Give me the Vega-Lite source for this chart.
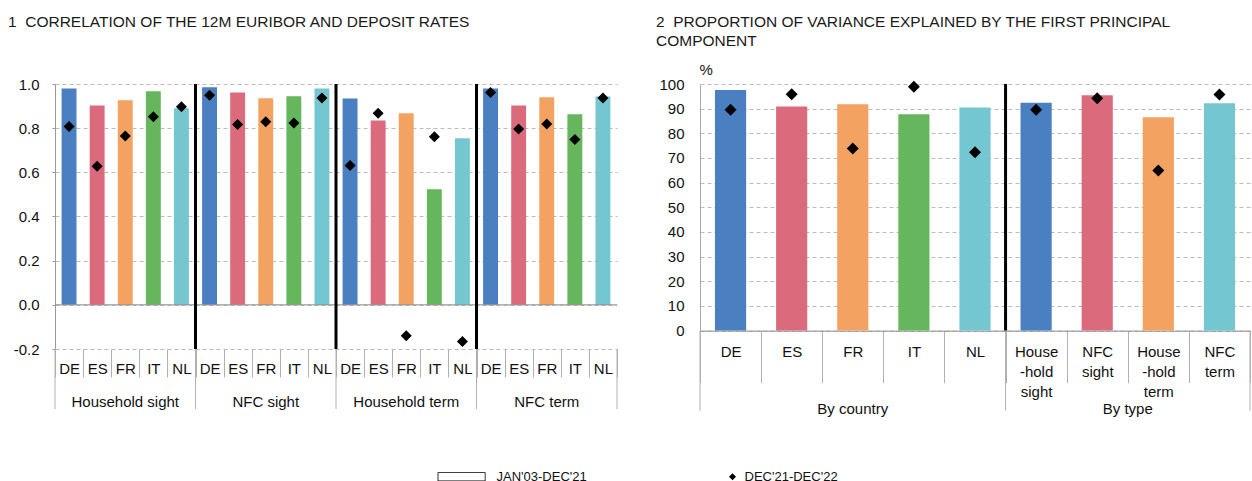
{
  "$schema": "https://vega.github.io/schema/vega-lite/v6.json",
  "padding": {"left": 8, "top": 14, "right": 0, "bottom": 0},
  "bounds": "flush",
  "spacing": 83,
  "config": {
    "font": "Liberation Sans",
    "view": {"stroke": null},
    "axis": {"labelFont": "Liberation Sans", "labelColor": "#111", "titleFont": "Liberation Sans", "titleColor": "#111"},
    "legend": {"labelFont": "Liberation Sans", "labelColor": "#111"},
    "title": {"font": "Liberation Sans", "fontWeight": "normal", "color": "#1a1a1a", "fontSize": 15.5, "anchor": "start", "frame": "group"}
  },
  "datasets": {
    "corr": [
      {"group": "Household sight", "country": "DE", "key": "Household sight|DE", "jan03_dec21": 0.980, "dec21_dec22": 0.807},
      {"group": "Household sight", "country": "ES", "key": "Household sight|ES", "jan03_dec21": 0.903, "dec21_dec22": 0.628},
      {"group": "Household sight", "country": "FR", "key": "Household sight|FR", "jan03_dec21": 0.926, "dec21_dec22": 0.764},
      {"group": "Household sight", "country": "IT", "key": "Household sight|IT", "jan03_dec21": 0.967, "dec21_dec22": 0.852},
      {"group": "Household sight", "country": "NL", "key": "Household sight|NL", "jan03_dec21": 0.890, "dec21_dec22": 0.897},
      {"group": "NFC sight", "country": "DE", "key": "NFC sight|DE", "jan03_dec21": 0.985, "dec21_dec22": 0.949},
      {"group": "NFC sight", "country": "ES", "key": "NFC sight|ES", "jan03_dec21": 0.962, "dec21_dec22": 0.817},
      {"group": "NFC sight", "country": "FR", "key": "NFC sight|FR", "jan03_dec21": 0.935, "dec21_dec22": 0.829},
      {"group": "NFC sight", "country": "IT", "key": "NFC sight|IT", "jan03_dec21": 0.944, "dec21_dec22": 0.823},
      {"group": "NFC sight", "country": "NL", "key": "NFC sight|NL", "jan03_dec21": 0.980, "dec21_dec22": 0.937},
      {"group": "Household term", "country": "DE", "key": "Household term|DE", "jan03_dec21": 0.934, "dec21_dec22": 0.631},
      {"group": "Household term", "country": "ES", "key": "Household term|ES", "jan03_dec21": 0.835, "dec21_dec22": 0.867},
      {"group": "Household term", "country": "FR", "key": "Household term|FR", "jan03_dec21": 0.867, "dec21_dec22": -0.140},
      {"group": "Household term", "country": "IT", "key": "Household term|IT", "jan03_dec21": 0.523, "dec21_dec22": 0.761},
      {"group": "Household term", "country": "NL", "key": "Household term|NL", "jan03_dec21": 0.754, "dec21_dec22": -0.166},
      {"group": "NFC term", "country": "DE", "key": "NFC term|DE", "jan03_dec21": 0.980, "dec21_dec22": 0.961},
      {"group": "NFC term", "country": "ES", "key": "NFC term|ES", "jan03_dec21": 0.903, "dec21_dec22": 0.796},
      {"group": "NFC term", "country": "FR", "key": "NFC term|FR", "jan03_dec21": 0.940, "dec21_dec22": 0.819},
      {"group": "NFC term", "country": "IT", "key": "NFC term|IT", "jan03_dec21": 0.863, "dec21_dec22": 0.749},
      {"group": "NFC term", "country": "NL", "key": "NFC term|NL", "jan03_dec21": 0.943, "dec21_dec22": 0.937}
    ],
    "pca": [
      {"group": "By country", "key": "DE", "jan03_dec21": 97.6, "dec21_dec22": 89.6},
      {"group": "By country", "key": "ES", "jan03_dec21": 90.9, "dec21_dec22": 95.8},
      {"group": "By country", "key": "FR", "jan03_dec21": 91.8, "dec21_dec22": 73.8},
      {"group": "By country", "key": "IT", "jan03_dec21": 87.7, "dec21_dec22": 98.9},
      {"group": "By country", "key": "NL", "jan03_dec21": 90.5, "dec21_dec22": 72.3},
      {"group": "By type", "key": "House|-hold|sight", "jan03_dec21": 92.4, "dec21_dec22": 89.6},
      {"group": "By type", "key": "NFC|sight", "jan03_dec21": 95.4, "dec21_dec22": 94.2},
      {"group": "By type", "key": "House|-hold|term", "jan03_dec21": 86.5, "dec21_dec22": 64.9},
      {"group": "By type", "key": "NFC|term", "jan03_dec21": 92.2, "dec21_dec22": 95.7}
    ],
    "pcagroups": [
      {"group": "By country", "mid": "FR"},
      {"group": "By type", "mid": "NFC|sight"}
    ]
  },
  "resolve": {
    "scale": {"x": "independent", "y": "independent", "color": "independent", "shape": "independent"},
    "legend": {"shape": "independent", "color": "independent"}
  },
  "hconcat": [
    {
      "width": 562,
      "height": 265,
      "title": {"text": "1\u00a0\u00a0CORRELATION OF THE 12M EURIBOR AND DEPOSIT RATES", "dx": -47, "offset": 47},
      "data": {"name": "corr"},
      "layer": [
        {
          "mark": {"type": "bar", "width": {"band": 0.53}},
          "encoding": {
            "x": {"field": "key", "type": "nominal", "sort": null,
              "scale": {"domain": ["Household sight|DE","Household sight|ES","Household sight|FR","Household sight|IT","Household sight|NL","NFC sight|DE","NFC sight|ES","NFC sight|FR","NFC sight|IT","NFC sight|NL","Household term|DE","Household term|ES","Household term|FR","Household term|IT","Household term|NL","NFC term|DE","NFC term|ES","NFC term|FR","NFC term|IT","NFC term|NL"], "paddingInner": 0, "paddingOuter": 0},
              "axis": {"title": null, "labelExpr": "split(datum.value, '|')[1]", "labelAngle": 0, "tickBand": "extent", "tickSize": 28, "tickColor": "#b0b0b0", "domain": false, "grid": false, "labelPadding": -16, "labelFontSize": 15}},
            "y": {"field": "jan03_dec21", "type": "quantitative",
              "scale": {"domain": [-0.2, 1], "nice": false, "zero": false},
              "axis": {"title": null, "values": [-0.2, 0, 0.2, 0.4, 0.6, 0.8, 1], "labelOverlap": false, "labelExpr": "datum.value < 0 ? '-' + format(-datum.value, '.1f') : format(datum.value, '.1f')", "grid": true, "gridDash": [4, 3], "gridColor": "#bcbcbc", "domainColor": "#999", "tickColor": "#999", "tickSize": 3, "labelPadding": 13, "labelFontSize": 15}},
            "color": {"field": "country", "type": "nominal", "scale": {"domain": ["DE","ES","FR","IT","NL"], "range": ["#4A7FC1","#DB6B7C","#F4A261","#65B65C","#74C6D1"]}, "legend": null}
          }
        },
        {
          "data": {"values": [{}]},
          "mark": {"type": "rule", "color": "#8a8a8a", "strokeWidth": 1},
          "encoding": {"y": {"datum": 0, "type": "quantitative", "scale": {"domain": [-0.2, 1], "nice": false, "zero": false}}}
        },
        {
          "transform": [{"filter": "datum.country == 'DE' && datum.group != 'Household sight'"}],
          "mark": {"type": "rule", "color": "#000", "strokeWidth": 3},
          "encoding": {
            "x": {"field": "key", "type": "nominal", "sort": null, "bandPosition": 0,
              "scale": {"domain": ["Household sight|DE","Household sight|ES","Household sight|FR","Household sight|IT","Household sight|NL","NFC sight|DE","NFC sight|ES","NFC sight|FR","NFC sight|IT","NFC sight|NL","Household term|DE","Household term|ES","Household term|FR","Household term|IT","Household term|NL","NFC term|DE","NFC term|ES","NFC term|FR","NFC term|IT","NFC term|NL"], "paddingInner": 0, "paddingOuter": 0}}
          }
        },
        {
          "transform": [{"filter": "datum.country == 'DE'"}],
          "mark": {"type": "rule", "color": "#b0b0b0", "strokeWidth": 1, "y2Offset": 60},
          "encoding": {
            "x": {"field": "key", "type": "nominal", "sort": null, "bandPosition": 0,
              "scale": {"domain": ["Household sight|DE","Household sight|ES","Household sight|FR","Household sight|IT","Household sight|NL","NFC sight|DE","NFC sight|ES","NFC sight|FR","NFC sight|IT","NFC sight|NL","Household term|DE","Household term|ES","Household term|FR","Household term|IT","Household term|NL","NFC term|DE","NFC term|ES","NFC term|FR","NFC term|IT","NFC term|NL"], "paddingInner": 0, "paddingOuter": 0}},
            "y": {"datum": -0.2, "type": "quantitative", "scale": {"domain": [-0.2, 1], "nice": false, "zero": false}},
            "y2": {"datum": -0.2}
          }
        },
        {
          "transform": [{"filter": "datum.key == 'NFC term|NL'"}],
          "mark": {"type": "rule", "color": "#b0b0b0", "strokeWidth": 1, "y2Offset": 60},
          "encoding": {
            "x": {"field": "key", "type": "nominal", "sort": null, "bandPosition": 1,
              "scale": {"domain": ["Household sight|DE","Household sight|ES","Household sight|FR","Household sight|IT","Household sight|NL","NFC sight|DE","NFC sight|ES","NFC sight|FR","NFC sight|IT","NFC sight|NL","Household term|DE","Household term|ES","Household term|FR","Household term|IT","Household term|NL","NFC term|DE","NFC term|ES","NFC term|FR","NFC term|IT","NFC term|NL"], "paddingInner": 0, "paddingOuter": 0}},
            "y": {"datum": -0.2, "type": "quantitative", "scale": {"domain": [-0.2, 1], "nice": false, "zero": false}},
            "y2": {"datum": -0.2}
          }
        },
        {
          "transform": [{"filter": "datum.country == 'FR'"}],
          "mark": {"type": "text", "dy": 53, "baseline": "middle", "align": "center", "fontSize": 15, "color": "#111"},
          "encoding": {
            "x": {"field": "key", "type": "nominal", "sort": null,
              "scale": {"domain": ["Household sight|DE","Household sight|ES","Household sight|FR","Household sight|IT","Household sight|NL","NFC sight|DE","NFC sight|ES","NFC sight|FR","NFC sight|IT","NFC sight|NL","Household term|DE","Household term|ES","Household term|FR","Household term|IT","Household term|NL","NFC term|DE","NFC term|ES","NFC term|FR","NFC term|IT","NFC term|NL"], "paddingInner": 0, "paddingOuter": 0}},
            "y": {"datum": -0.2, "type": "quantitative", "scale": {"domain": [-0.2, 1], "nice": false, "zero": false}},
            "text": {"field": "group"}
          }
        },
        {
          "mark": {"type": "point", "filled": true, "color": "#000", "opacity": 1, "size": 121},
          "encoding": {
            "x": {"field": "key", "type": "nominal", "sort": null,
              "scale": {"domain": ["Household sight|DE","Household sight|ES","Household sight|FR","Household sight|IT","Household sight|NL","NFC sight|DE","NFC sight|ES","NFC sight|FR","NFC sight|IT","NFC sight|NL","Household term|DE","Household term|ES","Household term|FR","Household term|IT","Household term|NL","NFC term|DE","NFC term|ES","NFC term|FR","NFC term|IT","NFC term|NL"], "paddingInner": 0, "paddingOuter": 0}},
            "y": {"field": "dec21_dec22", "type": "quantitative", "scale": {"domain": [-0.2, 1], "nice": false, "zero": false}},
            "shape": {"datum": "DEC'21-DEC'22", "type": "nominal",
              "scale": {"domain": ["JAN'03-DEC'21", "DEC'21-DEC'22"], "range": ["M-13.4,-1.3H0.3V1.3H-13.4Z M-13.17,-1.07V1.07H0.07V-1.07Z", "diamond"]},
              "legend": {"orient": "none", "legendX": 423, "legendY": 386, "direction": "horizontal", "title": null, "symbolSize": 49, "labelOffset": 5.5, "columnPadding": 139, "labelFontSize": 13, "symbolStrokeWidth": 0, "padding": 0}}
          }
        }
      ]
    },
    {
      "width": 550,
      "height": 246.6,
      "title": {"text": ["2\u00a0\u00a0PROPORTION OF VARIANCE EXPLAINED BY THE FIRST PRINCIPAL", "\u00a0\u00a0\u00a0\u00a0COMPONENT"], "dx": -44, "offset": 13, "lineHeight": 19},
      "data": {"name": "pca"},
      "layer": [
        {
          "mark": {"type": "bar", "width": {"band": 0.51}},
          "encoding": {
            "x": {"field": "key", "type": "nominal", "sort": null,
              "scale": {"domain": ["DE","ES","FR","IT","NL","House|-hold|sight","NFC|sight","House|-hold|term","NFC|term"], "paddingInner": 0, "paddingOuter": 0},
              "axis": {"title": null, "labelExpr": "datum.value == null || datum.value == 'undefined' ? '' : split(datum.value, '|')", "labelAngle": 0, "tickBand": "extent", "tickSize": 52, "tickColor": "#b0b0b0", "domain": true, "domainColor": "#8a8a8a", "grid": false, "labelPadding": -38, "labelLineHeight": 20, "labelFontSize": 15}},
            "y": {"field": "jan03_dec21", "type": "quantitative",
              "scale": {"domain": [0, 100], "nice": false},
              "axis": {"title": "%", "titleAngle": 0, "titleAlign": "left", "titleBaseline": "alphabetic", "titleX": -1, "titleY": -10, "titleFontSize": 15, "titleFontWeight": "normal", "values": [0,10,20,30,40,50,60,70,80,90,100], "tickCount": 11, "labelOverlap": false, "grid": true, "gridDash": [4, 3], "gridColor": "#bcbcbc", "domainColor": "#aaaaaa", "ticks": false, "labelPadding": 16, "labelFontSize": 15}},
            "color": {"field": "key", "type": "nominal", "scale": {"domain": ["DE","ES","FR","IT","NL","House|-hold|sight","NFC|sight","House|-hold|term","NFC|term"], "range": ["#4A7FC1","#DB6B7C","#F4A261","#65B65C","#74C6D1","#4A7FC1","#DB6B7C","#F4A261","#74C6D1"]}, "legend": null}
          }
        },
        {
          "transform": [{"filter": "datum.key == 'House|-hold|sight'"}],
          "mark": {"type": "rule", "color": "#000", "strokeWidth": 3},
          "encoding": {
            "x": {"field": "key", "type": "nominal", "sort": null, "bandPosition": 0,
              "scale": {"domain": ["DE","ES","FR","IT","NL","House|-hold|sight","NFC|sight","House|-hold|term","NFC|term"], "paddingInner": 0, "paddingOuter": 0}}
          }
        },
        {
          "transform": [{"filter": "datum.key == 'DE' || datum.key == 'House|-hold|sight'"}],
          "mark": {"type": "rule", "color": "#b0b0b0", "strokeWidth": 1, "y2Offset": 80},
          "encoding": {
            "x": {"field": "key", "type": "nominal", "sort": null, "bandPosition": 0,
              "scale": {"domain": ["DE","ES","FR","IT","NL","House|-hold|sight","NFC|sight","House|-hold|term","NFC|term"], "paddingInner": 0, "paddingOuter": 0}},
            "y": {"datum": 0, "type": "quantitative", "scale": {"domain": [0, 100], "nice": false}},
            "y2": {"datum": 0}
          }
        },
        {
          "transform": [{"filter": "datum.key == 'NFC|term'"}],
          "mark": {"type": "rule", "color": "#b0b0b0", "strokeWidth": 1, "y2Offset": 80},
          "encoding": {
            "x": {"field": "key", "type": "nominal", "sort": null, "bandPosition": 1,
              "scale": {"domain": ["DE","ES","FR","IT","NL","House|-hold|sight","NFC|sight","House|-hold|term","NFC|term"], "paddingInner": 0, "paddingOuter": 0}},
            "y": {"datum": 0, "type": "quantitative", "scale": {"domain": [0, 100], "nice": false}},
            "y2": {"datum": 0}
          }
        },
        {
          "data": {"name": "pcagroups"},
          "transform": [{"filter": "datum.group == 'By country'"}],
          "mark": {"type": "text", "dy": 78, "baseline": "middle", "align": "center", "fontSize": 15, "color": "#111"},
          "encoding": {
            "x": {"field": "mid", "type": "nominal", "sort": null, "bandPosition": 0.5,
              "scale": {"domain": ["DE","ES","FR","IT","NL","House|-hold|sight","NFC|sight","House|-hold|term","NFC|term"], "paddingInner": 0, "paddingOuter": 0}},
            "y": {"datum": 0, "type": "quantitative", "scale": {"domain": [0, 100], "nice": false}},
            "text": {"field": "group"}
          }
        },
        {
          "data": {"name": "pcagroups"},
          "transform": [{"filter": "datum.group == 'By type'"}],
          "mark": {"type": "text", "dy": 78, "baseline": "middle", "align": "center", "fontSize": 15, "color": "#111"},
          "encoding": {
            "x": {"field": "mid", "type": "nominal", "sort": null, "bandPosition": 1,
              "scale": {"domain": ["DE","ES","FR","IT","NL","House|-hold|sight","NFC|sight","House|-hold|term","NFC|term"], "paddingInner": 0, "paddingOuter": 0}},
            "y": {"datum": 0, "type": "quantitative", "scale": {"domain": [0, 100], "nice": false}},
            "text": {"field": "group"}
          }
        },
        {
          "mark": {"type": "point", "shape": "diamond", "filled": true, "color": "#000", "opacity": 1, "size": 144},
          "encoding": {
            "x": {"field": "key", "type": "nominal", "sort": null,
              "scale": {"domain": ["DE","ES","FR","IT","NL","House|-hold|sight","NFC|sight","House|-hold|term","NFC|term"], "paddingInner": 0, "paddingOuter": 0}},
            "y": {"field": "dec21_dec22", "type": "quantitative", "scale": {"domain": [0, 100], "nice": false}}
          }
        }
      ]
    }
  ]
}
